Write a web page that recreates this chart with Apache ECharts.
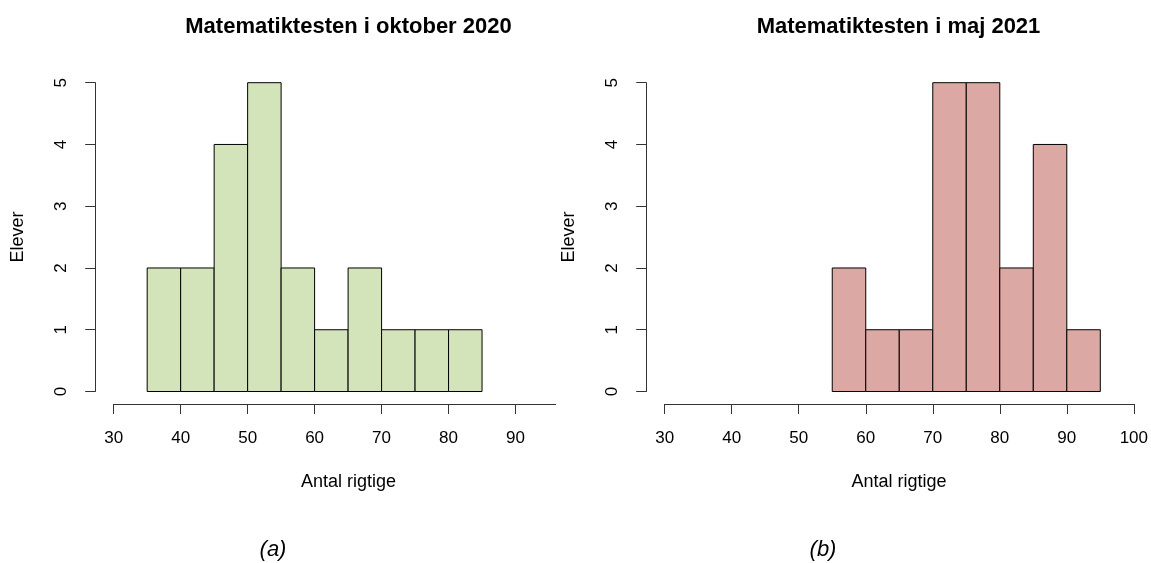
<!DOCTYPE html>
<html>
<head>
<meta charset="utf-8">
<script src="https://cdn.jsdelivr.net/npm/echarts@6/dist/echarts.min.js"></script>
<style>
  html, body { margin: 0; padding: 0; background: #fff; }
  #chart { width: 1151px; height: 563px; }
</style>
</head>
<body>
<div id="chart"></div>
<script>
// Histogram bins (lower edge, upper edge) and student counts per bin
const binsOct = [[35, 40], [40, 45], [45, 50], [50, 55], [55, 60], [60, 65], [65, 70], [70, 75], [75, 80], [80, 85]];
const countsOct = [2, 2, 4, 5, 2, 1, 2, 1, 1, 1];
const binsMay = [[55, 60], [60, 65], [65, 70], [70, 75], [75, 80], [80, 85], [85, 90], [90, 95]];
const countsMay = [2, 1, 1, 5, 5, 2, 4, 1];

const xTicksOct = [30, 40, 50, 60, 70, 80, 90];
const xTicksMay = [30, 40, 50, 60, 70, 80, 90, 100];
const yTicks = [0, 1, 2, 3, 4, 5];

const titleOct = 'Matematiktesten i oktober 2020';
const titleMay = 'Matematiktesten i maj 2021';
const xName = 'Antal rigtige';
const yName = 'Elever';
const tagOct = '(a)';
const tagMay = '(b)';

const FONT = '"Liberation Sans", Arial, Helvetica, sans-serif';
const GREEN = '#d4e4ba';
const RED = '#dba8a4';

function histData(bins, counts) {
  return bins.map((b, i) => [b[0], b[1], counts[i]]);
}

function renderBin(params, api) {
  const p0 = api.coord([api.value(0), api.value(2)]);
  const p1 = api.coord([api.value(1), 0]);
  return {
    type: 'rect',
    shape: { x: p0[0], y: p0[1], width: p1[0] - p0[0], height: p1[1] - p0[1] },
    style: api.style({ stroke: '#000', lineWidth: 1 })
  };
}

function xAxisCfg(idx, max, ticks) {
  return {
    type: 'value', gridIndex: idx, min: 30, max: max, interval: 10,
    offset: 12.5,
    axisLine: { show: true, onZero: false, lineStyle: { color: '#333', width: 1 } },
    axisTick: { show: true, length: 10, customValues: ticks, lineStyle: { color: '#333' } },
    axisLabel: { customValues: ticks, margin: 26, fontFamily: FONT, fontSize: 17, color: '#000' },
    splitLine: { show: false }
  };
}

function yAxisCfg(idx) {
  return {
    type: 'value', gridIndex: idx, min: 0, max: 5, interval: 1,
    offset: 18.5,
    axisLine: { show: true, lineStyle: { color: '#333', width: 1 } },
    axisTick: { show: true, length: 10, customValues: yTicks, lineStyle: { color: '#333' } },
    axisLabel: { customValues: yTicks, rotate: 90, margin: 25, fontFamily: FONT, fontSize: 17, color: '#000' },
    splitLine: { show: false }
  };
}

function label(text, x, y, font, rotation) {
  return {
    type: 'text', x: x, y: y, rotation: rotation || 0,
    style: { text: text, font: font, fill: '#000', textAlign: 'center', textVerticalAlign: 'middle' }
  };
}

const titleFont = 'bold 22px ' + FONT;
const nameFont = '18px ' + FONT;
const tagFont = 'italic 22px ' + FONT;

const chart = echarts.init(document.getElementById('chart'), null, { renderer: 'canvas' });
chart.setOption({
  animation: false,
  backgroundColor: '#fff',
  graphic: [
    label(titleOct, 348.5, 27, titleFont),
    label(titleMay, 898.5, 27, titleFont),
    label(xName, 348.5, 482, nameFont),
    label(xName, 899, 482, nameFont),
    label(yName, 18, 237, nameFont, Math.PI / 2),
    label(yName, 569, 237, nameFont, Math.PI / 2),
    label(tagOct, 273, 550, tagFont),
    label(tagMay, 823, 550, tagFont)
  ],
  grid: [
    { left: 113.7, width: 442, top: 82.7, height: 308.8 },
    { left: 664.7, width: 469.3, top: 82.7, height: 308.8 }
  ],
  xAxis: [xAxisCfg(0, 96, xTicksOct), xAxisCfg(1, 100, xTicksMay)],
  yAxis: [yAxisCfg(0), yAxisCfg(1)],
  series: [
    { type: 'custom', xAxisIndex: 0, yAxisIndex: 0, renderItem: renderBin,
      itemStyle: { color: GREEN }, encode: { x: [0, 1], y: 2 },
      data: histData(binsOct, countsOct) },
    { type: 'custom', xAxisIndex: 1, yAxisIndex: 1, renderItem: renderBin,
      itemStyle: { color: RED }, encode: { x: [0, 1], y: 2 },
      data: histData(binsMay, countsMay) }
  ]
});
</script>
</body>
</html>
